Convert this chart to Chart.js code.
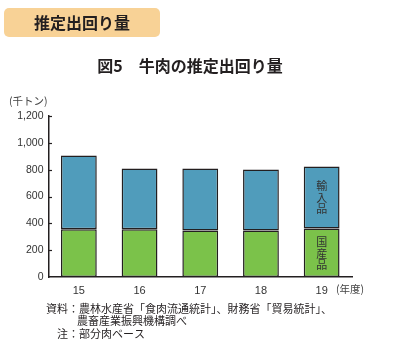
<!DOCTYPE html>
<html lang="ja">
<head>
<meta charset="utf-8">
<script src="https://cdn.jsdelivr.net/npm/chart.js@4"></script>
<style>
  html, body { margin: 0; padding: 0; background: #fff; }
  canvas { display: block; }
</style>
</head>
<body>
<canvas id="c" width="400" height="346"></canvas>
<script>
// 年度（平成）
const categories = ['15', '16', '17', '18', '19'];
// 国産品（千トン）
const domestic = [355, 355, 347, 347, 362];
// 輸入品（千トン）
const imported = [550, 454, 462, 454, 462];
// 縦軸目盛
const yTicks = [0, 200, 400, 600, 800, 1000, 1200];

const FONT = "'Liberation Sans', 'Noto Sans CJK JP', sans-serif";
const JP = "'Noto Sans CJK JP', sans-serif";
const INK = '#231f20';

const decorations = {
  id: 'decorations',
  afterDraw(chart) {
    const ctx = chart.ctx;
    const y = chart.scales.y;
    ctx.save();

    // 見出しボックス
    ctx.fillStyle = '#f8d296';
    ctx.beginPath();
    ctx.roundRect(4, 8, 156, 29, 5);
    ctx.fill();
    ctx.fillStyle = INK;
    ctx.font = "bold 16px " + JP;
    ctx.textAlign = 'center';
    ctx.textBaseline = 'middle';
    ctx.fillText('推定出回り量', 82, 23);

    // 図タイトル
    ctx.font = "bold 16px " + JP;
    ctx.fillText('図5　牛肉の推定出回り量', 190, 66);

    // 単位
    ctx.font = "10.5px " + JP;
    ctx.fillStyle = '#444';
    ctx.textAlign = 'left';
    ctx.fillText('(千トン)', 9, 101);

    // 年度
    ctx.fillText('(年度)', 336, 289);

    // 縦軸の内向き目盛
    ctx.strokeStyle = INK;
    ctx.lineWidth = 1.2;
    yTicks.forEach(v => {
      if (v === 0) return;
      const py = Math.round(y.getPixelForValue(v)) + 0.5;
      ctx.beginPath();
      ctx.moveTo(chart.chartArea.left, py);
      ctx.lineTo(chart.chartArea.left + 3.5, py);
      ctx.stroke();
    });

    // 最終年度の棒に系列名を縦書き
    const metaD = chart.getDatasetMeta(0).data[4];
    const metaI = chart.getDatasetMeta(1).data[4];
    ctx.fillStyle = '#333';
    ctx.font = "11px " + JP;
    ctx.textAlign = 'center';
    ctx.textBaseline = 'middle';
    const drawVertical = (text, cx, cy) => {
      const step = 11.5;
      const start = cy - step * (text.length - 1) / 2;
      [...text].forEach((ch, i) => ctx.fillText(ch, cx, start + i * step));
    };
    drawVertical('輸入品', metaI.x, (metaI.y + metaI.base) / 2);
    drawVertical('国産品', metaD.x, (metaD.y + metaD.base) / 2 + 1);

    // 注記
    ctx.fillStyle = INK;
    ctx.font = "11px " + JP;
    ctx.textAlign = 'left';
    ctx.fillText('資料：農林水産省「食肉流通統計」、財務省「貿易統計」、', 46, 309);
    ctx.fillText('農畜産業振興機構調べ', 77, 321);
    ctx.fillText('注：部分肉ベース', 57, 334);
    ctx.restore();
  }
};

new Chart(document.getElementById('c'), {
  type: 'bar',
  data: {
    labels: categories,
    datasets: [
      {
        label: '国産品',
        data: domestic,
        backgroundColor: '#7bc24a',
        borderColor: INK,
        borderWidth: 1.5,
        borderSkipped: false,
        categoryPercentage: 1,
        barPercentage: 0.59
      },
      {
        label: '輸入品',
        data: imported,
        backgroundColor: '#509cbb',
        borderColor: INK,
        borderWidth: 1.5,
        borderSkipped: false,
        categoryPercentage: 1,
        barPercentage: 0.59
      }
    ]
  },
  options: {
    responsive: false,
    animation: false,
    devicePixelRatio: 1,
    layout: { padding: { top: 116, right: 48, left: 0, bottom: 0 } },
    plugins: {
      legend: { display: false },
      tooltip: { enabled: false },
      title: { display: false }
    },
    scales: {
      x: {
        stacked: true,
        grid: { display: false, drawTicks: false },
        border: { display: true, color: INK, width: 1.5 },
        ticks: {
          color: '#333',
          font: { family: FONT, size: 11 },
          padding: 7
        },
        afterFit(scale) { scale.height = 69; }
      },
      y: {
        stacked: true,
        min: 0,
        max: 1200,
        grid: { display: false, drawTicks: false },
        border: { display: true, color: INK, width: 1.5 },
        afterBuildTicks(scale) { scale.ticks = yTicks.map(v => ({ value: v })); },
        ticks: {
          color: '#333',
          font: { family: FONT, size: 10.5 },
          padding: 5,
          callback: v => v.toLocaleString('en-US')
        },
        afterFit(scale) { scale.width = 48.5; }
      }
    }
  },
  plugins: [decorations]
});
</script>
</body>
</html>
